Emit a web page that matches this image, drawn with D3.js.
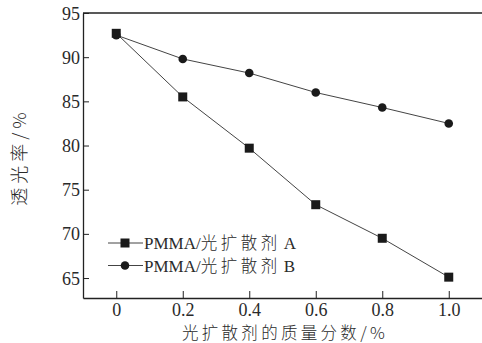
<!DOCTYPE html>
<html>
<head>
<meta charset="utf-8">
<script src="https://cdn.jsdelivr.net/npm/d3@7"></script>
<style>
  body { margin: 0; background: #fff; }
  text { fill: #2a2a2a; }
</style>
</head>
<body>
<svg id="chart" width="482" height="343"></svg>
<script>
// data
const loadings = [0, 0.2, 0.4, 0.6, 0.8, 1.0];
const seriesA = [92.7, 85.5, 79.7, 73.3, 69.5, 65.1];
const seriesB = [92.5, 89.8, 88.2, 86.0, 84.3, 82.5];
const seriesNames = ['PMMA/光扩散剂 A', 'PMMA/光扩散剂 B'];
const xTicks = [0, 0.2, 0.4, 0.6, 0.8, 1.0];
const yTicks = [65, 70, 75, 80, 85, 90, 95];

const svg = d3.select('#chart');
const serif = '"Liberation Serif", "Times New Roman", serif';
const cjk = '"Noto Sans CJK SC", sans-serif';

const margin = {top: 13, right: 0, bottom: 45, left: 83};
const W = 482, H = 343;

const x = d3.scaleLinear().domain([-0.1, 1.1]).range([margin.left, W - margin.right]);
const y = d3.scaleLinear().domain([62.74, 95]).range([H - margin.bottom, margin.top]);

// frame: top line (no right border in the figure)
svg.append('line')
    .attr('x1', x.range()[0]).attr('x2', x.range()[1])
    .attr('y1', y(95)).attr('y2', y(95))
    .attr('stroke', '#222').attr('stroke-width', 1.3);

// axes
const xAxis = svg.append('g')
    .attr('transform', 'translate(0,' + y.range()[0] + ')')
    .call(d3.axisBottom(x).tickValues(xTicks).tickSizeInner(-7).tickSizeOuter(0)
        .tickFormat(d => d === 0 ? '0' : d3.format('.1f')(d)));
xAxis.select('.domain').attr('stroke', '#222').attr('stroke-width', 1.3);
xAxis.selectAll('.tick line').attr('stroke', '#222');
xAxis.selectAll('.tick text').attr('dy', null).attr('y', 17.5)
    .attr('font-family', serif).attr('font-size', 18).attr('fill', '#2a2a2a');

const yAxis = svg.append('g')
    .attr('transform', 'translate(' + x.range()[0] + ',0)')
    .call(d3.axisLeft(y).tickValues(yTicks).tickSizeInner(-6).tickSizeOuter(0));
yAxis.select('.domain').attr('stroke', '#222').attr('stroke-width', 1.3);
yAxis.selectAll('.tick line').attr('stroke', '#222');
yAxis.selectAll('.tick text').attr('x', -3).attr('dy', '0.34em')
    .attr('font-family', serif).attr('font-size', 18).attr('fill', '#2a2a2a');

// axis titles
svg.append('text')
    .attr('x', 285).attr('y', 338.5)
    .attr('text-anchor', 'middle')
    .attr('font-family', cjk).attr('font-size', 16.5).attr('font-weight', 300)
    .attr('letter-spacing', 3.3)
    .text('光扩散剂的质量分数/%');

svg.append('text')
    .attr('transform', 'translate(26,157) rotate(-90)')
    .attr('text-anchor', 'middle')
    .attr('font-family', cjk).attr('font-size', 18).attr('font-weight', 300)
    .attr('letter-spacing', 4)
    .text('透光率/%');

// series
const line = d3.line().x((d, i) => x(loadings[i])).y(d => y(d));
const lineColor = '#444';

svg.append('path').datum(seriesB).attr('d', line)
    .attr('fill', 'none').attr('stroke', lineColor).attr('stroke-width', 1);
svg.append('path').datum(seriesA).attr('d', line)
    .attr('fill', 'none').attr('stroke', lineColor).attr('stroke-width', 1);

svg.append('g').selectAll('circle').data(seriesB).join('circle')
    .attr('cx', (d, i) => x(loadings[i])).attr('cy', d => y(d))
    .attr('r', 4.3).attr('fill', '#1a1a1a');

const sq = 9;
svg.append('g').selectAll('rect').data(seriesA).join('rect')
    .attr('x', (d, i) => x(loadings[i]) - sq / 2).attr('y', d => y(d) - sq / 2)
    .attr('width', sq).attr('height', sq).attr('fill', '#1a1a1a');

// legend
const legend = svg.append('g');
const legendRows = [243, 265.5];
seriesNames.forEach((name, i) => {
  const g = legend.append('g').attr('transform', 'translate(0,' + legendRows[i] + ')');
  g.append('line').attr('x1', 108).attr('x2', 143).attr('y1', 0).attr('y2', 0)
      .attr('stroke', lineColor).attr('stroke-width', 1);
  if (i === 0) {
    g.append('rect').attr('x', 125 - sq / 2).attr('y', -sq / 2)
        .attr('width', sq).attr('height', sq).attr('fill', '#1a1a1a');
  } else {
    g.append('circle').attr('cx', 125).attr('cy', 0).attr('r', 4.3).attr('fill', '#1a1a1a');
  }
  const t = g.append('text').attr('x', 144).attr('y', 6)
      .attr('font-size', 17).attr('xml:space', 'preserve');
  const parts = name.split('/');
  t.append('tspan').attr('font-family', serif).text(parts[0] + '/');
  const rest = parts[1].split(' ');
  t.append('tspan').attr('font-family', cjk).attr('font-size', 16.5).attr('font-weight', 300)
      .attr('letter-spacing', 3.5).text(rest[0]);
  t.append('tspan').attr('font-family', serif).attr('dx', 3).text(rest[1]);
});
</script>
</body>
</html>
